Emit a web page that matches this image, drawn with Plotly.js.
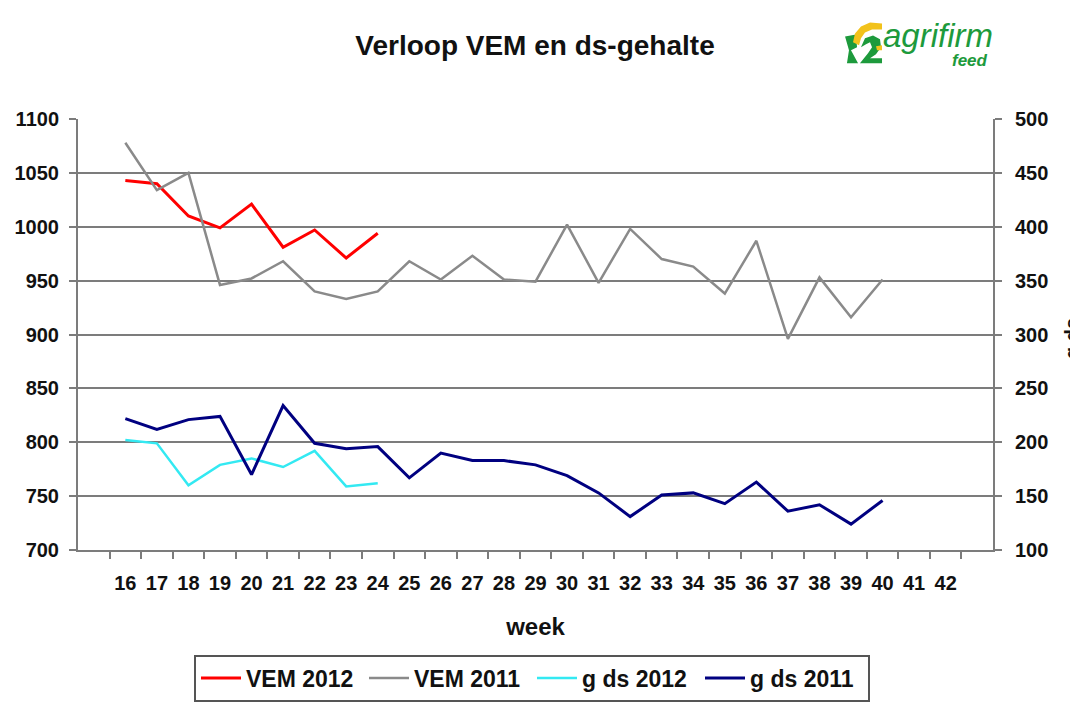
<!DOCTYPE html>
<html>
<head>
<meta charset="utf-8">
<script src="https://cdn.plot.ly/plotly-3.0.1.min.js"></script>
<style>html,body{margin:0;padding:0;background:#fff;}#chart{width:1070px;height:713px;}</style>
</head>
<body>
<div id="chart"></div>
<script>
// ---- data ----
const weeks = ["16","17","18","19","20","21","22","23","24","25","26","27","28","29","30","31","32","33","34","35","36","37","38","39","40","41","42"];
const vem2012 = [1043,1040,1010,999,1021,981,997,971,994];
const vem2011 = [1078,1034,1050,946,952,968,940,933,940,968,951,973,951,949,1002,948,998,970,963,938,987,896,953,916,951];
const gds2012 = [202,199,160,179,185,177,192,159,162];
const gds2011 = [222,212,221,224,170,234,199,194,196,167,190,183,183,179,169,153,131,151,153,143,163,136,142,124,146];
const seriesNames = ["VEM 2012","VEM 2011","g ds 2012","g ds 2011"];

const FONT = "Liberation Sans, Arial, sans-serif";
const GRID = "#7c7c7c";
const L = 78, R = 993, T = 119, B = 552;
const px = x => (x - L) / (R - L);
const py = y => (B - y) / (B - T);

function tr(vals, name, color, width, axis) {
  return {
    x: weeks.slice(0, vals.length), y: vals, name: name,
    type: "scatter", mode: "lines",
    line: {color: color, width: width},
    yaxis: axis, hoverinfo: "x+y+name"
  };
}
const data = [
  tr(vem2012, seriesNames[0], "#ff0000", 3, "y"),
  tr(vem2011, seriesNames[1], "#8a8a8a", 2.5, "y"),
  tr(gds2012, seriesNames[2], "#33e9f2", 2.5, "y2"),
  tr(gds2011, seriesNames[3], "#000080", 3, "y2")
];

// logo icon shapes (pixel coords converted to paper)
function path(pts) {
  return pts.map((p, i) => (i === 0 ? "M" : "L") + px(p[0]).toFixed(4) + "," + py(p[1]).toFixed(4)).join(" ") + " Z";
}
const shapes = [
  {type: "path", xref: "paper", yref: "paper", line: {width: 0}, fillcolor: "#1d9a3c",
   path: path([[845,36],[856,34],[857,47],[851,50],[858,63],[847,63],[849,50]])},
  {type: "path", xref: "paper", yref: "paper", line: {width: 0}, fillcolor: "#f2c21b",
   path: path([[853,42],[855,33],[861,26],[870,22],[882,23],[882,29],[872,29],[865,32],[861,38],[859,45]])},
  {type: "path", xref: "paper", yref: "paper", line: {width: 0}, fillcolor: "#1d9a3c",
   path: path([[861,47],[865,38],[873,35],[880,39],[881,47],[876,54],[870,58],[882,58],[882,63],[860,63],[868,53],[872,47],[870,42],[866,44]])},
  {type: "path", xref: "paper", yref: "paper", line: {width: 0}, fillcolor: "#f2c21b",
   path: path([[876,46],[882,45],[882,50],[877,50]])}
];

const layout = {
  width: 1070, height: 713,
  margin: {l: L, r: 1070 - R, t: T, b: 713 - B, pad: 0},
  paper_bgcolor: "#ffffff", plot_bgcolor: "#ffffff",
  font: {family: FONT, color: "#111111"},
  title: {
    text: "Verloop VEM en ds-gehalte",
    font: {family: FONT, size: 28, weight: 700, color: "#111111"},
    xref: "paper", x: px(535), xanchor: "center",
    yref: "container", y: 1 - 45 / 713, yanchor: "middle"
  },
  xaxis: {
    type: "category", categoryorder: "array", categoryarray: weeks,
    range: [-1.5, weeks.length + 0.5],
    tickson: "boundaries", ticks: "outside", ticklen: 7, tickwidth: 2, tickcolor: GRID,
    showline: true, linecolor: GRID, linewidth: 2, showgrid: false, zeroline: false,
    tickangle: 0,
    tickfont: {family: FONT, size: 20, weight: 700, color: "#111111"},
    ticklabelstandoff: 14, automargin: false,
    title: {text: "week", font: {family: FONT, size: 24, weight: 700, color: "#111111"}, standoff: 25}
  },
  yaxis: {
    range: [700, 1100], tick0: 700, dtick: 50,
    showgrid: true, gridcolor: GRID, gridwidth: 2, zeroline: false,
    showline: true, linecolor: GRID, linewidth: 2,
    ticks: "outside", ticklen: 7, tickwidth: 2, tickcolor: GRID,
    tickfont: {family: FONT, size: 20, weight: 700, color: "#111111"},
    ticklabelstandoff: 6, automargin: false
  },
  yaxis2: {
    overlaying: "y", side: "right",
    range: [100, 500], tick0: 100, dtick: 50,
    showgrid: false, zeroline: false,
    showline: true, linecolor: GRID, linewidth: 2,
    ticks: "outside", ticklen: 7, tickwidth: 2, tickcolor: GRID,
    tickfont: {family: FONT, size: 20, weight: 700, color: "#111111"},
    ticklabelstandoff: 9, automargin: false
  },
  showlegend: true,
  legend: {
    orientation: "h", xref: "paper", yref: "paper",
    x: px(532), xanchor: "center", y: py(657), yanchor: "top",
    bordercolor: "#555555", borderwidth: 2, bgcolor: "#ffffff",
    font: {family: FONT, size: 23, weight: 700, color: "#111111"},
    itemwidth: 40, tracegroupgap: 0, traceorder: "normal",
    entrywidthmode: "pixels", entrywidth: 113
  },
  shapes: shapes,
  annotations: [
    {text: "<i>agrifirm</i>", xref: "paper", yref: "paper", x: px(881), y: py(35), xanchor: "left", yanchor: "middle",
     showarrow: false, font: {family: FONT, size: 33, color: "#1d9a3c"}},
    {text: "<i><b>feed</b></i>", xref: "paper", yref: "paper", x: px(990), y: py(60), xanchor: "right", yanchor: "middle",
     showarrow: false, font: {family: FONT, size: 17, color: "#1d9a3c"}},
    {text: "<b>g ds</b>", xref: "paper", yref: "paper", x: px(1072), y: py(340), xanchor: "center", yanchor: "middle",
     textangle: -90, showarrow: false, font: {family: FONT, size: 20, color: "#111111"}}
  ]
};

Plotly.newPlot("chart", data, layout, {displayModeBar: false, responsive: false});
</script>
</body>
</html>
